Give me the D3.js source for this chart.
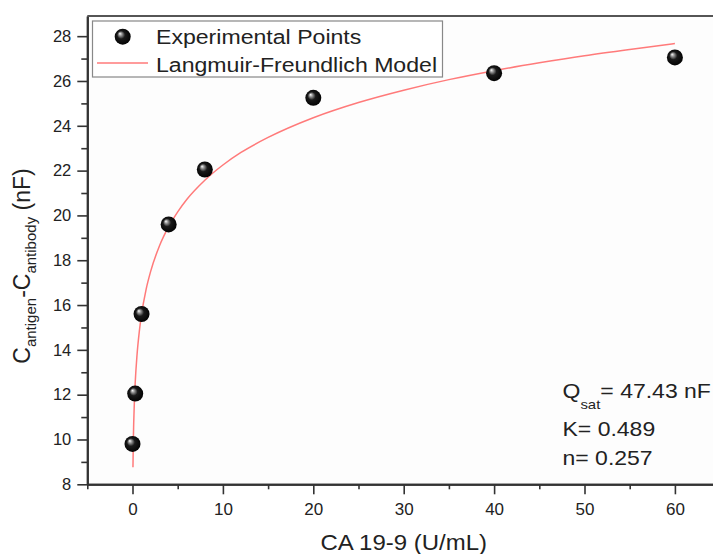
<!DOCTYPE html>
<html>
<head>
<meta charset="utf-8">
<script src="https://cdn.jsdelivr.net/npm/d3@7"></script>
<style>
  html, body { margin: 0; padding: 0; background: #fff; }
  svg { display: block; font-family: "Liberation Sans", Arial, sans-serif; }
</style>
</head>
<body>
<svg id="chart" width="713" height="554"></svg>
<script>
// Measured CA 19-9 concentrations (U/mL) and capacitance change (nF)
const conc = [0, 0.3, 1, 4, 8, 20, 40, 60];
const capDiff = [9.8, 12.05, 15.6, 19.6, 22.05, 25.25, 26.35, 27.05];

// Langmuir-Freundlich fitted curve (Qsat = 47.43 nF, K = 0.489, n = 0.257)
const modelConc = [0.05, 0.1, 0.2, 0.3, 0.5, 0.75, 1, 1.5, 2, 3, 4, 5, 6, 8, 10, 12, 15, 20, 25, 30, 35, 40, 45, 50, 55, 60];
const modelCap = [8.76, 10.10, 11.59, 12.53, 13.77, 14.81, 15.58, 16.69, 17.49, 18.66, 19.50, 20.16, 20.71, 21.57, 22.25, 22.81, 23.48, 24.36, 25.04, 25.59, 26.06, 26.46, 26.81, 27.13, 27.41, 27.67];

const xMajorTicks = [0, 10, 20, 30, 40, 50, 60];
const xMinorTicks = [-5, 5, 15, 25, 35, 45, 55, 65];
const yMajorTicks = [8, 10, 12, 14, 16, 18, 20, 22, 24, 26, 28];
const yMinorTicks = [9, 11, 13, 15, 17, 19, 21, 23, 25, 27];

const legendLabels = ["Experimental Points", "Langmuir-Freundlich Model"];
const fitParams = [
  { name: "Q", sub: "sat", value: "= 47.43 nF" },
  { name: "K", sub: "", value: "= 0.489" },
  { name: "n", sub: "", value: "= 0.257" }
];

const svg = d3.select("#chart");
const axisColor = "#333";
const textColor = "#222";
const fitColor = "#ff7a7a";

const plotLeft = 87.3, plotRight = 720.1, plotTop = 16, plotBottom = 484.3;
const x = d3.scaleLinear().domain([-5, 65]).range([plotLeft, plotRight]);
const y = d3.scaleLinear().domain([8, 28.9]).range([plotBottom, plotTop]);

// sphere shading for the markers
const defs = svg.append("defs");
const grad = defs.append("radialGradient")
  .attr("id", "sphere")
  .attr("cx", "0.5").attr("cy", "0.5").attr("r", "0.55")
  .attr("fx", "0.32").attr("fy", "0.3");
grad.append("stop").attr("offset", "0").attr("stop-color", "#ffffff");
grad.append("stop").attr("offset", "0.18").attr("stop-color", "#9a9a9a");
grad.append("stop").attr("offset", "0.45").attr("stop-color", "#1a1a1a");
grad.append("stop").attr("offset", "1").attr("stop-color", "#000000");

// plot background
svg.append("rect")
  .attr("x", plotLeft).attr("y", plotTop)
  .attr("width", 713 - plotLeft).attr("height", plotBottom - plotTop)
  .attr("fill", "#fdfdfd");

// axes
const xAxis = d3.axisBottom(x).tickValues(xMajorTicks).tickSize(10).tickSizeOuter(0).tickPadding(9);
const xMinor = d3.axisBottom(x).tickValues(xMinorTicks).tickSize(5).tickFormat("").tickSizeOuter(0);
const yAxis = d3.axisLeft(y).tickValues(yMajorTicks).tickSize(10).tickSizeOuter(0).tickPadding(6);
const yMinor = d3.axisLeft(y).tickValues(yMinorTicks).tickSize(6).tickFormat("").tickSizeOuter(0);

function styleAxis(g, fs) {
  g.selectAll("path").attr("stroke", axisColor).attr("stroke-width", 2);
  g.selectAll("line").attr("stroke", axisColor).attr("stroke-width", 1.6);
  g.selectAll("text").attr("fill", textColor).attr("font-size", fs)
    .attr("font-family", "'Liberation Sans', Arial, sans-serif");
}

svg.append("g").attr("transform", `translate(0,${plotBottom})`).call(xMinor).call(g => styleAxis(g, 17));
svg.append("g").attr("transform", `translate(0,${plotBottom})`).call(xAxis).call(g => styleAxis(g, 17));
svg.append("g").attr("transform", `translate(${plotLeft},0)`).call(yMinor).call(g => styleAxis(g, 16.5));
svg.append("g").attr("transform", `translate(${plotLeft},0)`).call(yAxis).call(g => styleAxis(g, 16.5));

// top frame line
svg.append("line")
  .attr("x1", plotLeft).attr("x2", 713).attr("y1", plotTop).attr("y2", plotTop)
  .attr("stroke", "#555").attr("stroke-width", 2);

// axis titles (glyphs drawn slightly wide)
svg.append("text")
  .attr("transform", `translate(${x(30)},550) scale(1.09,1)`)
  .attr("text-anchor", "middle").attr("font-size", 22).attr("fill", textColor)
  .text("CA 19-9 (U/mL)");

const yTitle = svg.append("text")
  .attr("transform", "translate(30,266) rotate(-90)")
  .attr("text-anchor", "middle").attr("font-size", 23).attr("fill", textColor);
yTitle.append("tspan").text("C");
yTitle.append("tspan").attr("font-size", 15).attr("dy", 6).text("antigen");
yTitle.append("tspan").attr("dy", -6).text("-C");
yTitle.append("tspan").attr("font-size", 15).attr("dy", 6).text("antibody");
yTitle.append("tspan").attr("dy", -6).text(" (nF)");

// fitted curve
const line = d3.line()
  .x((d, i) => x(modelConc[i]))
  .y((d, i) => y(modelCap[i]))
  .curve(d3.curveMonotoneX);
svg.append("path")
  .datum(modelConc)
  .attr("d", line)
  .attr("fill", "none")
  .attr("stroke", fitColor)
  .attr("stroke-width", 1.5);

// experimental points
svg.append("g").selectAll("circle")
  .data(conc)
  .join("circle")
  .attr("cx", d => x(d))
  .attr("cy", (d, i) => y(capDiff[i]))
  .attr("r", 8)
  .attr("fill", "url(#sphere)");

// legend
const lg = svg.append("g");
lg.append("rect")
  .attr("x", 92.5).attr("y", 21).attr("width", 350).attr("height", 56)
  .attr("fill", "#fff").attr("stroke", "#888").attr("stroke-width", 1.2);
lg.append("circle").attr("cx", 122.7).attr("cy", 36.7).attr("r", 8).attr("fill", "url(#sphere)");
lg.append("line").attr("x1", 97).attr("x2", 148).attr("y1", 63).attr("y2", 63)
  .attr("stroke", fitColor).attr("stroke-width", 1.5);
lg.selectAll("text.lab")
  .data(legendLabels)
  .join("text")
  .attr("class", "lab")
  .attr("transform", (d, i) => `translate(156,${43.5 + i * 28}) scale(1.1,1)`)
  .attr("font-size", 21).attr("fill", textColor)
  .text(d => d);

// fit parameters
const pg = svg.append("g");
fitParams.forEach((p, i) => {
  const t = pg.append("text")
    .attr("transform", `translate(562.5,${[398, 436, 465][i]}) scale(1.15,1)`)
    .attr("font-size", 20).attr("fill", textColor);
  t.append("tspan").text(p.name);
  if (p.sub) {
    t.append("tspan").attr("font-size", 13).attr("dy", 11).text(p.sub);
    t.append("tspan").attr("dy", -11).text(p.value);
  } else {
    t.append("tspan").text(p.value);
  }
});
</script>
</body>
</html>
